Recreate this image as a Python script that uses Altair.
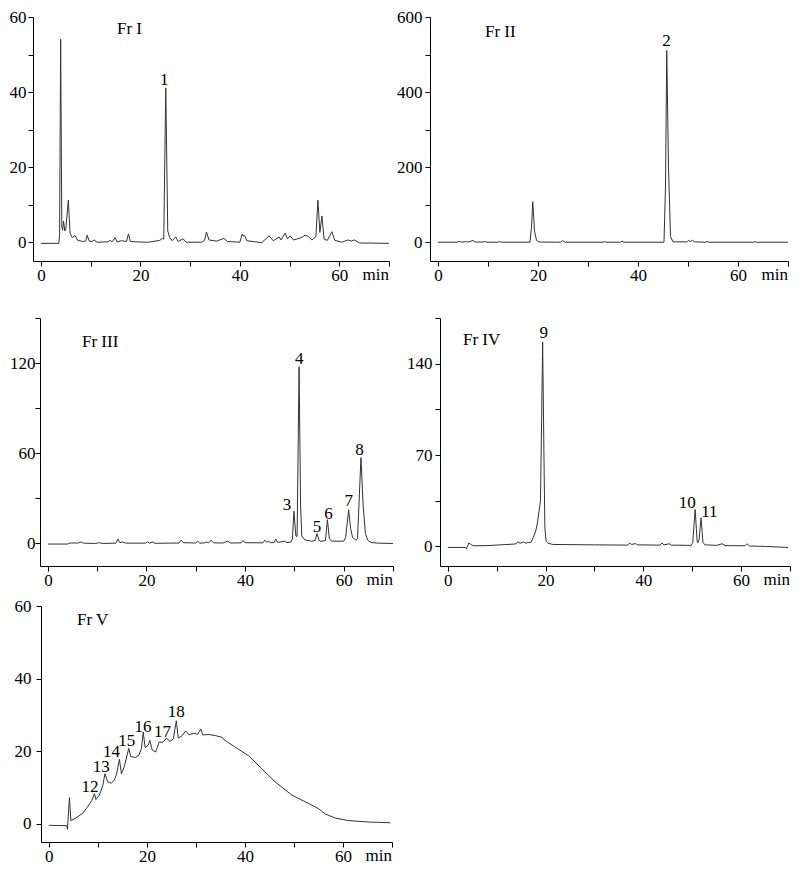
import altair as alt
import pandas as pd

FONT = "Liberation Serif"
LINE = "#333333"

# ---------------- Fr I ----------------
t1 = [0, 3.6, 3.75, 3.96, 4.2, 4.35, 4.55, 4.8, 5.0, 5.5, 5.85, 6.3, 6.85, 7.4, 8.4, 9.0, 9.3, 9.7,
      10.3, 10.7, 11.3, 13.5, 13.9, 14.3, 14.9, 15.3, 16.2, 17.2, 17.6, 18.0, 19.0, 21.6, 23.9, 24.4,
      24.7, 25.1, 25.5, 25.9, 26.4, 27.1, 27.6, 28.6, 29.2, 32.3, 32.9, 33.3, 33.8, 35.3, 36.8, 37.5,
      40.0, 40.5, 40.7, 40.95, 41.4, 44.4, 45.9, 46.7, 47.9, 48.3, 49.1, 49.6, 50.1, 50.8, 52.1, 52.6,
      53.1, 53.8, 54.5, 55.3, 55.7, 56.1, 56.5, 56.95, 57.6, 58.5, 59.1, 60.5, 61.8, 62.4, 63.0, 64.1, 70.0]
v1 = [-0.3, -0.3, 2, 54.1, 4, 3.2, 5.6, 3.0, 3.5, 11.2, 2.5, 1.2, 1.8, 0.5, 0.2, 0.3, 1.9, 0.3,
      0.2, 0.6, 0, 0.1, 0.5, 0.1, 1.2, 0.1, 0.4, 0.2, 2.2, 0.2, 0.1, 0, 0.5, 1.0,
      0.8, 41.1, 3, 1.2, 0.4, 1.4, 0.2, 0.9, 0, 0, 0.5, 2.7, 0.6, 0.3, 1.0, 0.2,
      0, 2.2, 1.6, 1.8, 0.4, -0.1, 1.7, 0.4, 1.4, 0.6, 2.4, 0.9, 1.7, 0.6, 1.1, 1.4,
      1.9, 1.5, 0.6, 1.5, 11.2, 2.6, 7.0, 0.8, 0.5, 2.8, 0.5, 0, 0.6, 0.3, 0.6, -0.2, -0.3]
lab1 = ["1"]
lab1_t = [24.8]
lab1_v = [41.8]

# ---------------- Fr II ----------------
t2 = [0, 3.8, 4.3, 4.8, 5.5, 6.0, 6.6, 7.0, 7.5, 9.0, 9.3, 9.8, 12.0, 12.3, 12.7, 18.4, 18.7, 18.95,
      19.3, 19.7, 20.2, 24.5, 24.9, 25.4, 33.0, 33.3, 33.6, 36.5, 36.8, 37.2, 45.2, 45.5, 45.75, 46.1,
      46.5, 47.0, 49.8, 50.1, 50.5, 50.9, 51.3, 53.5, 53.8, 54.2, 63.1, 63.4, 63.7, 70.0]
v2 = [0, 0, 2, 0, 2, 0.5, 3, 4.4, 0.5, 0.5, 2, 0, 0, 2, 0, 0, 40, 108,
      30, 5, 0.5, 0, 4.4, 0, 0, 2, 0, 0, 3, 0, 0, 150, 511, 200,
      15, 1, 1, 5, 2, 5, 1, 0, 2, 0, 0, 1.5, 0, 0]
lab2 = ["2"]
lab2_t = [45.7]
lab2_v = [522]

# ---------------- Fr III ----------------
t3 = [0, 4.0, 4.5, 6.2, 6.7, 7.2, 9.5, 10.5, 11.0, 13.8, 14.2, 14.6, 15.2, 15.8, 19.8, 20.2, 20.6,
      21.3, 21.7, 26.6, 27.0, 27.5, 30.0, 30.4, 30.8, 31.8, 32.2, 32.6, 33.1, 33.6, 35.5, 36.0, 36.5,
      37.0, 39.2, 39.6, 40.0, 43.6, 44.0, 44.4, 44.7, 45.2, 45.9, 46.2, 46.6, 48.0, 48.5, 49.3, 49.6,
      49.9, 50.3, 50.55, 50.95, 51.25, 51.5, 52.1, 53.5, 54.2, 54.6, 55.0, 55.4, 56.3, 56.7, 57.1, 57.6,
      60.0, 60.4, 61.0, 61.4, 61.8, 62.5, 62.8, 63.5, 63.95, 64.4, 64.9, 65.6, 67.0, 70.0]
v3 = [-0.4, -0.4, 0.3, 0.3, 1.0, 0.2, 0, 0.5, 0, 0.2, 2.9, 0.5, 1.0, 0.2, 0.2, 1.1, 0.2,
      1.0, 0.1, 0.3, 2.2, 0.5, 0.3, 1.5, 0.2, 0.4, 1.0, 0.3, 2.2, 0.4, 0.3, 1.0, 1.5,
      0.3, 0.4, 2.0, 0.5, 0.4, 2.2, 0.8, 1.5, 0.5, 0.8, 2.9, 0.7, 1.5, 0.6, 1.0, 3,
      21.5, 5, 4.6, 117.6, 25, 5, 2.4, 1.5, 2.0, 6.6, 2.0, 1.4, 2.0, 15.8, 3.0, 1.5,
      1.5, 4, 22.4, 10, 4, 2.2, 3, 57.1, 25, 6.6, 2, 0.6, 0.2, 0]
lab3 = ["3", "4", "5", "6", "7", "8"]
lab3_t = [48.5, 51.0, 54.6, 56.9, 61.0, 63.2]
lab3_v = [22.0, 119.3, 7.9, 16.5, 25.2, 58.7]

# ---------------- Fr IV ----------------
t4 = [0, 3.6, 3.8, 4.3, 4.6, 5.2, 8.0, 13.5, 14.0, 14.3, 14.8, 15.5, 16.0, 16.5, 17.0, 17.5, 18.0,
      18.35, 18.7, 18.95, 19.2, 19.4, 19.65, 19.85, 20.1, 20.5, 21.5, 30.0, 36.8, 37.2, 37.6, 38.4,
      38.8, 43.4, 43.8, 44.2, 45.3, 45.7, 49.8, 50.1, 50.6, 51.0, 51.15, 51.4, 51.8, 52.2, 52.6, 55.0,
      55.9, 56.2, 56.7, 60.8, 61.2, 61.7, 65.0, 69.6]
v4 = [-0.8, -0.8, -1.8, 2.6, 1.8, 0.5, 0.6, 1.8, 2.0, 3.6, 2.4, 3.4, 2.5, 3.1, 3.0, 7.0, 12,
      18.6, 28, 35, 100, 156.5, 74, 15, 4, 2.4, 1.5, 1.2, 1.0, 2.6, 1.5, 2.2,
      1.2, 1.0, 2.6, 1.2, 2.0, 1.0, 0.8, 3, 28.4, 4, 2.8, 5, 21.9, 3, 1.2, 0.8,
      1.8, 2.0, 0.6, 0.5, 2.0, 0.3, 0, -0.8]
lab4 = ["9", "10", "11"]
lab4_t = [19.6, 49.0, 53.5]
lab4_v = [159.5, 29.6, 22.4]

# ---------------- Fr V ----------------
t5 = [0, 3.65, 3.8, 4.2, 4.5, 5.5, 6.9, 7.9, 8.8, 9.3, 9.6, 10.3, 11.0, 11.45, 12.0, 12.7, 13.35,
      13.8, 14.4, 14.8, 15.4, 16.3, 16.7, 17.7, 18.4, 18.9, 19.25, 19.65, 20.3, 20.6, 21.1, 21.8,
      22.5, 23.3, 24.0, 24.7, 25.4, 26.0, 26.4, 27.2, 27.9, 28.6, 29.6, 30.3, 31.0, 31.4, 32.7, 34.0,
      35.4, 35.7, 37.7, 40.8, 43.5, 46.2, 49.6, 53.0, 55.0, 56.4, 58.4, 61.1, 65.2, 69.6]
v5 = [-0.4, -0.5, -1.5, 7.2, 0.9, 1.6, 2.9, 4.7, 6.5, 8.3, 6.7, 7.9, 10.5, 13.8, 11.6, 11.2, 12,
      13.6, 17.8, 13.8, 15.8, 20.8, 18.5, 18.3, 19, 20.8, 25.3, 21, 21.7, 23, 20.3, 19.8,
      22.5, 22.5, 23.6, 22.7, 23.4, 28.4, 23.6, 24.3, 25.6, 24.5, 25, 24.6, 26.1, 24.5, 24.6, 24.3,
      23.8, 23.2, 21.4, 18.7, 15.1, 11.5, 7.9, 5.6, 4.2, 2.7, 1.6, 0.9, 0.5, 0.3]
lab5 = ["12", "13", "14", "15", "16", "17", "18"]
lab5_t = [8.4, 10.7, 12.8, 15.9, 19.2, 23.2, 26.0]
lab5_v = [8.8, 14.2, 18.3, 21.4, 25.2, 23.9, 29.3]

X_TICKS = list(range(0, 71, 10))


def panel(t, v, labs, lab_t, lab_v, ydom, yticks, ystep, title, title_xy, w, h, lpad, ext=None):
    xs = alt.Scale(domain=[-1.6, 70], nice=False, zero=False)
    ys = alt.Scale(domain=ydom, nice=False, zero=False)
    xaxis = alt.Axis(values=X_TICKS, title=None, grid=False,
                     labelExpr="datum.value % 20 == 0 && datum.value < 70 ? datum.label : ''",
                     tickSize=5, labelPadding=1, labelFont=FONT, labelFontSize=17,
                     labelColor="black", domainColor="black", tickColor="black",
                     labelOverlap=False, labelFlush=False)
    yargs = dict(values=yticks, title=None, grid=False,
                 labelExpr=f"datum.value % {ystep} == 0 ? datum.label : ''",
                 tickSize=5, labelPadding=lpad, labelFont=FONT, labelFontSize=17,
                 labelColor="black", domainColor="black", tickColor="black",
                 labelOverlap=False)
    if ext is not None:
        yargs["minExtent"] = ext
    yaxis = alt.Axis(**yargs)
    df = pd.DataFrame({"t": t, "v": v})
    line = alt.Chart(df).mark_line(color=LINE, strokeWidth=1).encode(
        x=alt.X("t:Q", scale=xs, axis=xaxis),
        y=alt.Y("v:Q", scale=ys, axis=yaxis),
        order="t:Q",
    )
    ldf = pd.DataFrame({"t": lab_t, "v": lab_v, "lab": labs})
    labels = alt.Chart(ldf).mark_text(font=FONT, fontSize=17, baseline="alphabetic",
                                      align="center", color="black").encode(
        x=alt.X("t:Q", scale=xs), y=alt.Y("v:Q", scale=ys), text="lab:N")
    tdf = pd.DataFrame({"s": [title]})
    ttl = alt.Chart(tdf).mark_text(font=FONT, fontSize=17, baseline="alphabetic",
                                   align="left", color="black").encode(
        x=alt.value(title_xy[0]), y=alt.value(title_xy[1]), text="s:N")
    mdf = pd.DataFrame({"s": ["min"]})
    mn = alt.Chart(mdf).mark_text(font=FONT, fontSize=17, baseline="alphabetic",
                                  align="right", color="black").encode(
        x=alt.value(w), y=alt.value(h + 19), text="s:N")
    return alt.layer(line, labels, ttl, mn).properties(width=w, height=h)


def spacer():
    sdf = pd.DataFrame({"s": [""]})
    return alt.Chart(sdf).mark_text(fontSize=4).encode(
        text="s:N", x=alt.value(0), y=alt.value(5)).properties(width=1, height=10)


p1 = panel(t1, v1, lab1, lab1_t, lab1_v, [-5, 60], list(range(0, 61, 10)), 20,
           "Fr I", (84, 17), 356, 244, 2)
p2 = panel(t2, v2, lab2, lab2_t, lab2_v, [-50, 600], list(range(0, 601, 100)), 200,
           "Fr II", (55, 20), 358, 244, 3)
p3 = panel(t3, v3, lab3, lab3_t, lab3_v, [-15, 150], list(range(0, 151, 30)), 60,
           "Fr III", (42, 29), 353, 248, 0)
p4 = panel(t4, v4, lab4, lab4_t, lab4_v, [-15, 175], list(range(0, 176, 35)), 70,
           "Fr IV", (23, 27), 350, 248, 3)
p5 = panel(t5, v5, lab5, lab5_t, lab5_v, [-5, 60], list(range(0, 61, 10)), 20,
           "Fr V", (36, 19), 351, 236, 5, ext=32)

row1 = alt.hconcat(alt.hconcat(spacer(), p1, spacing=0), p2, spacing=5)
row2 = alt.hconcat(alt.hconcat(spacer(), p3, spacing=0), p4, spacing=11)
row3 = alt.hconcat(spacer(), p5, spacing=0)
bottom = alt.vconcat(row2, row3, spacing=9)
chart = alt.vconcat(row1, bottom, spacing=26).properties(
    padding={"left": 0, "top": 0, "right": 0, "bottom": 0}
).configure(font=FONT).configure_view(stroke=None).configure_axis(
    domainWidth=1, tickWidth=1, labelFont=FONT)

chart.save("out.html", embed_options={"renderer": "svg", "actions": False})
